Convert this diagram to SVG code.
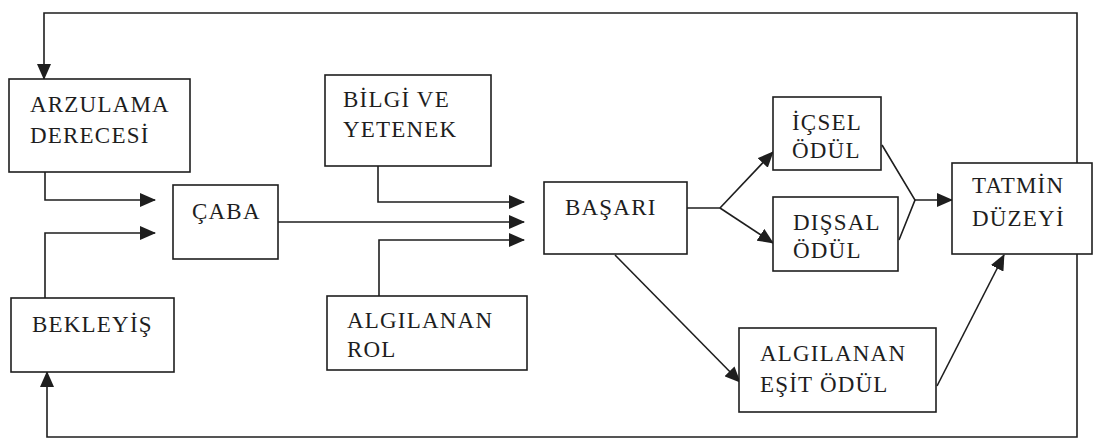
<svg xmlns="http://www.w3.org/2000/svg" width="1094" height="444" viewBox="0 0 1094 444">
  <style>
    .box { fill: #ffffff; stroke: #1e1e1e; stroke-width: 1.6; }
    .lbl { font-family: "Liberation Serif", "Times New Roman", serif; font-size: 23px; letter-spacing: 1.2px; fill: #1e1e1e; }
    .wire { fill: none; stroke: #1e1e1e; stroke-width: 1.6; }
    .arr { marker-end: url(#head); }
  </style>
  <defs>
    <marker id="head" markerUnits="userSpaceOnUse" markerWidth="16" markerHeight="14" refX="15" refY="7" orient="auto">
      <path d="M0,0 L16,7 L0,14 Z" fill="#1e1e1e"/>
    </marker>
  </defs>
  <rect width="1094" height="444" fill="#ffffff"/>

  <!-- connectors -->
  <g id="connectors">
    <!-- outer feedback loop -->
    <path class="wire arr" d="M1077,163 V13 H44 V79"/>
    <path class="wire arr" d="M1077,254 V437 H47 V372"/>
    <!-- inputs to effort -->
    <path class="wire arr" d="M45,172 V200 H155"/>
    <path class="wire arr" d="M45,298 V233 H155"/>
    <!-- inputs to performance -->
    <path class="wire arr" d="M378,148 V202 H524"/>
    <path class="wire arr" d="M278,222 H524"/>
    <path class="wire arr" d="M379,296 V240 H524"/>
    <!-- rewards -->
    <path class="wire" d="M687,208 H720"/>
    <path class="wire arr" d="M720,208 L773,152"/>
    <path class="wire arr" d="M720,208 L773,243"/>
    <path class="wire" d="M882,145 L915,200 L899,240"/>
    <path class="wire arr" d="M915,200 H952"/>
    <!-- perceived equitable reward -->
    <path class="wire arr" d="M615,255 L740,382"/>
    <path class="wire arr" d="M937,386 L1004,255"/>
  </g>

  <g id="arzulama">
    <rect class="box" x="9" y="79" width="181" height="93"/>
    <text class="lbl" x="30" y="112">ARZULAMA</text>
    <text class="lbl" x="30" y="143">DERECESİ</text>
  </g>
  <g id="bekleyis">
    <rect class="box" x="11" y="298" width="163" height="74"/>
    <text class="lbl" x="32" y="332">BEKLEYİŞ</text>
  </g>
  <g id="caba">
    <rect class="box" x="173" y="185" width="105" height="74"/>
    <text class="lbl" x="192" y="219">ÇABA</text>
  </g>
  <g id="bilgi">
    <rect class="box" x="325" y="75" width="166" height="91"/>
    <text class="lbl" x="343" y="107">BİLGİ VE</text>
    <text class="lbl" x="343" y="137">YETENEK</text>
  </g>
  <g id="algilanan-rol">
    <rect class="box" x="327" y="296" width="200" height="74"/>
    <text class="lbl" x="347" y="328">ALGILANAN</text>
    <text class="lbl" x="347" y="357">ROL</text>
  </g>
  <g id="basari">
    <rect class="box" x="544" y="182" width="143" height="72"/>
    <text class="lbl" x="565" y="215">BAŞARI</text>
  </g>
  <g id="icsel">
    <rect class="box" x="773" y="97" width="108" height="73"/>
    <text class="lbl" x="792" y="130">İÇSEL</text>
    <text class="lbl" x="792" y="158">ÖDÜL</text>
  </g>
  <g id="dissal">
    <rect class="box" x="773" y="197" width="125" height="74"/>
    <text class="lbl" x="793" y="230">DIŞSAL</text>
    <text class="lbl" x="793" y="258">ÖDÜL</text>
  </g>
  <g id="esit">
    <rect class="box" x="739" y="328" width="197" height="84"/>
    <text class="lbl" x="760" y="361">ALGILANAN</text>
    <text class="lbl" x="760" y="392">EŞİT ÖDÜL</text>
  </g>
  <g id="tatmin">
    <rect class="box" x="952" y="163" width="140" height="91"/>
    <text class="lbl" x="972" y="193">TATMİN</text>
    <text class="lbl" x="972" y="226">DÜZEYİ</text>
  </g>
</svg>
